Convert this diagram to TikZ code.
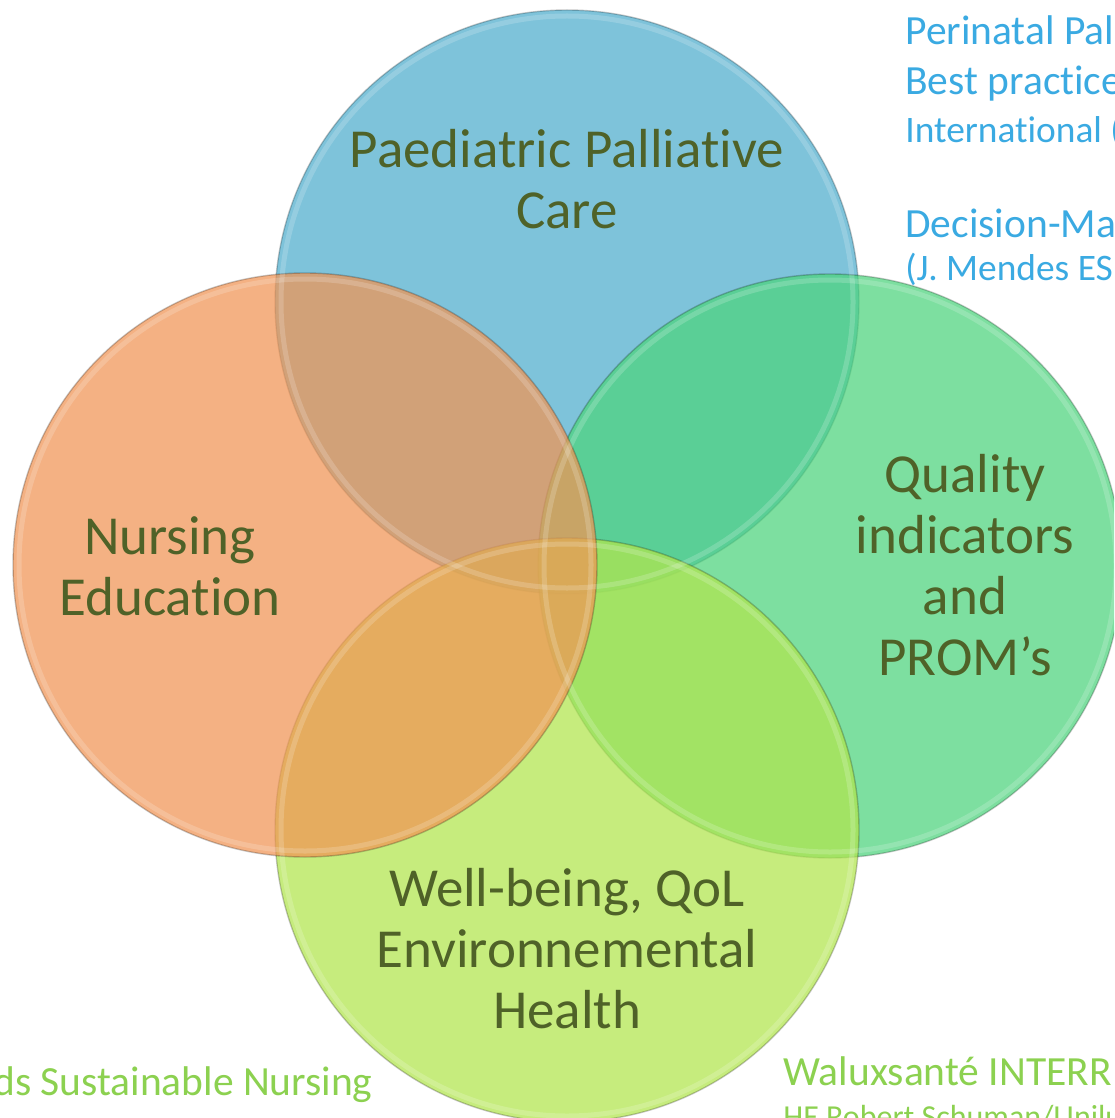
\documentclass[tikz,border=0pt]{standalone}
\usepackage{fontspec}
\setmainfont{Carlito}[Ligatures={NoCommon}]
\usepackage{tikz}
\usetikzlibrary{positioning}
\definecolor{careBlue}{HTML}{4FAECD}
\definecolor{eduOrange}{HTML}{F19555}
\definecolor{qualGreen}{HTML}{4DD47D}
\definecolor{wellLime}{HTML}{B1E54E}
\definecolor{topicOlive}{HTML}{4F6228}
\definecolor{noteBlue}{HTML}{3AAAE2}
\definecolor{noteGreen}{HTML}{8CD150}

\begin{document}
\begin{tikzpicture}[
    x=0.5pt, y=-0.5pt,
    venn/.style={circle, minimum size=292pt, inner sep=0pt, outer sep=0pt, fill opacity=0.73, draw=black, draw opacity=0.22, line width=0.7pt},
    rim/.style={white, opacity=0.18, line width=2.5pt},
    topic/.style={text=topicOlive, font=\fontsize{27.5}{30.5}\selectfont, align=center, inner sep=0pt},
    bignote/.style={inner sep=0pt, font=\fontsize{20.75}{25}\selectfont},
    smallnote/.style={inner sep=0pt, font=\fontsize{18.7}{22}\selectfont}
]
\clip (0,0) rectangle (1114,1118);
\fill[white] (0,0) rectangle (1114,1118);

% Circles
\node[venn, fill=careBlue] (care) at (567,302) {};
\node[venn, fill=qualGreen] (quality) at (830,566) {};
\node[venn, fill=wellLime] (wellbeing) at (567,830) {};
\node[venn, fill=eduOrange] (education) at (305,565) {};

\foreach \c in {care, quality, wellbeing, education}
    \draw[rim] (\c.center) circle[radius=143pt];

% Topics
\node[topic] (careText) at (567,179) {Paediatric Palliative\\Care};
\node[topic] (eduText) at (170,566) {Nursing\\Education};
\node[topic] (qualText) at (965,565) {Quality\\indicators\\and\\PROM’s};
\node[topic] (wellText) at (567,949) {Well-being, QoL\\Environnemental\\Health};

% Notes
\node[bignote, text=noteBlue, anchor=base west] (perinatal) at (905,45) {Perinatal Pal};
\node[bignote, text=noteBlue, anchor=base west] (practice) at (905,95) {Best practice};
\node[smallnote, text=noteBlue, anchor=base west] (international) at (905,143) {International (};
\node[bignote, text=noteBlue, anchor=base west] (decision) at (905,237) {Decision-Ma};
\node[smallnote, text=noteBlue, anchor=base west] (mendes) at (905,280) {(J. Mendes ESI};

\node[bignote, text=noteGreen, anchor=base east] (sustainable) at (373,1095) {ds Sustainable Nursing};
\node[bignote, text=noteGreen, anchor=base west] (waluxsante) at (783,1085) {Waluxsanté INTERR};
\node[bignote, text=noteGreen, anchor=base west, font=\fontsize{16}{19}\selectfont] (schuman) at (783,1127) {HE Robert Schuman/Unilu};

\end{tikzpicture}
\end{document}
